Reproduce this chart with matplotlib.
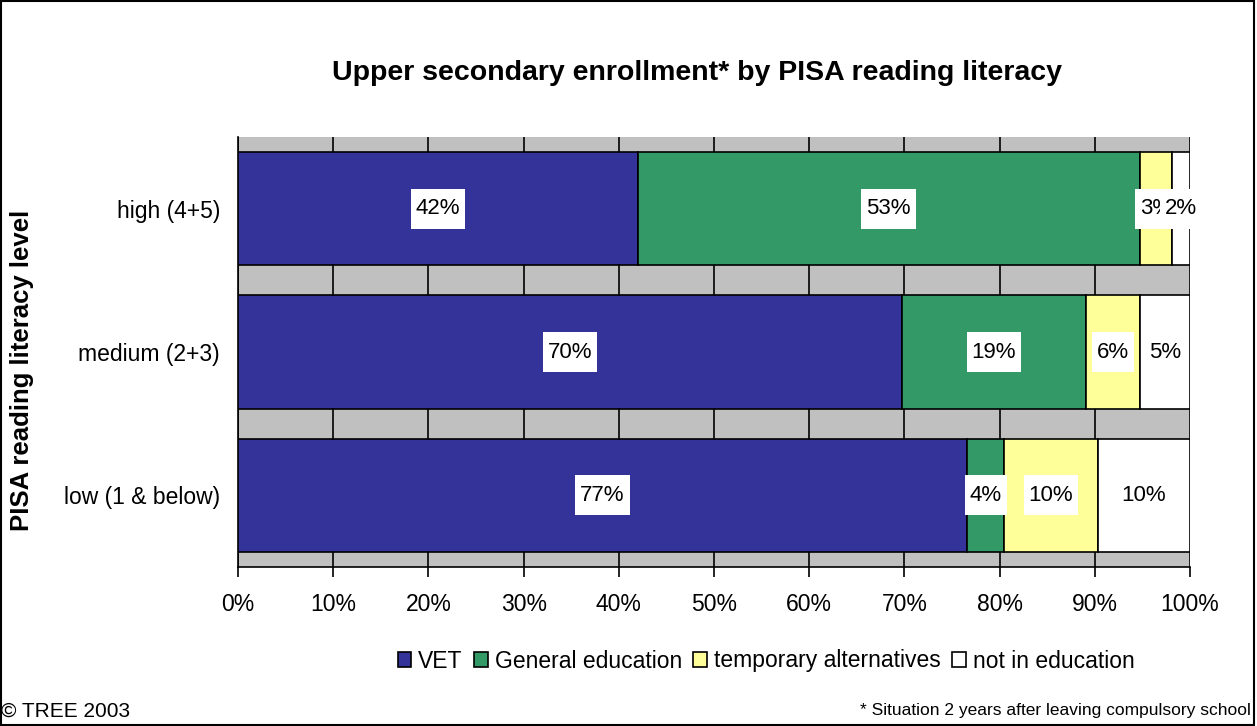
import numpy as np
import matplotlib
matplotlib.use('Agg')
import matplotlib.pyplot as plt
from matplotlib.patches import Rectangle
from matplotlib.transforms import IdentityTransform

plt.rcParams['font.family'] = ['Liberation Sans', 'DejaVu Sans']

#categories, bottom to top as drawn
levels = ['low (1 & below)', 'medium (2+3)', 'high (4+5)']
series = ['VET', 'General education', 'temporary alternatives', 'not in education']
vet = [76.6, 69.7, 42.0]
general = [3.9, 19.4, 52.7]
temporary = [9.8, 5.6, 3.4]
not_in_ed = [9.7, 5.3, 1.9]
labels = [['77%', '70%', '42%'],
          ['4%', '19%', '53%'],
          ['10%', '6%', '3%'],
          ['10%', '5%', '2%']]
colors = ['#333399', '#339966', '#FFFF99', '#FFFFFF']

values = np.array([vet, general, temporary, not_in_ed])

fig = plt.figure(figsize=(12.57, 7.26), dpi=100)
ax = fig.add_axes([238 / 1257, 1 - 567 / 726, 952 / 1257, 430 / 726])
ax.set_facecolor('#C0C0C0')

y = np.arange(len(levels))
left = np.zeros(len(levels))
texts = []
for i, name in enumerate(series):
    ax.barh(y, values[i], left=left, height=0.79, color=colors[i],
            edgecolor='black', linewidth=1.2, label=name, zorder=3)
    for j in range(len(levels)):
        xc = left[j] + values[i][j] / 2
        # later series sit on top, so a box can cover the previous label (as in the original)
        t = ax.text(xc, y[j], labels[i][j], ha='center', va='center', fontsize=16,
                    zorder=6 + 2 * i)
        texts.append((t, 5 + 2 * i))
    left += values[i]

ax.set_xlim(0, 100)
ax.set_ylim(-0.5, 2.5)
ax.set_xticks(np.arange(0, 101, 10))
ax.set_xticklabels([f'{t}%' for t in range(0, 101, 10)], fontsize=16.5)
ax.set_yticks(y)
ax.set_yticklabels(levels, fontsize=16.5)
ax.tick_params(axis='y', length=0, pad=13)
ax.tick_params(axis='x', length=7, width=1.2, pad=12, direction='out')
ax.grid(axis='x', color='black', linewidth=1.2, zorder=1)
for s in ['top', 'right']:
    ax.spines[s].set_visible(False)
ax.spines['left'].set_linewidth(1.2)
ax.spines['bottom'].set_linewidth(1.2)

fig.text(22 / 1257, 1 - 370 / 726, 'PISA reading literacy level', rotation=90,
         ha='center', va='center', fontsize=18.5, fontweight='bold')

fig.text(697 / 1257, 1 - 73 / 726, 'Upper secondary enrollment* by PISA reading literacy',
         ha='center', va='center', fontsize=20.5, fontweight='bold')

handles, lbls = ax.get_legend_handles_labels()
fig.legend(handles, lbls, loc='center', bbox_to_anchor=(766 / 1257, 1 - 661 / 726), ncol=4,
           frameon=False, fontsize=16.5, handlelength=0.6, handleheight=0.6,
           handletextpad=0.3, columnspacing=0.5)

fig.text(1 / 1257, 1 - 711 / 726, '© TREE 2003', ha='left', va='center', fontsize=15)
fig.text(1251 / 1257, 1 - 711 / 726, '* Situation 2 years after leaving compulsory school',
         ha='right', va='center', fontsize=12.5)

fig.add_artist(Rectangle((0.001, 0.002), 0.997, 0.996, transform=fig.transFigure,
                         fill=False, edgecolor='black', linewidth=1.5))

#white boxes behind the value labels, taller than the text like the original
fig.canvas.draw()
for t, z in texts:
    bb = t.get_window_extent()
    cy = (bb.y0 + bb.y1) / 2
    ax.add_patch(Rectangle((bb.x0 - 5, cy - 20), bb.width + 10, 40,
                           transform=IdentityTransform(), facecolor='white',
                           edgecolor='none', zorder=z))

plt.savefig('out.png', dpi=100)
